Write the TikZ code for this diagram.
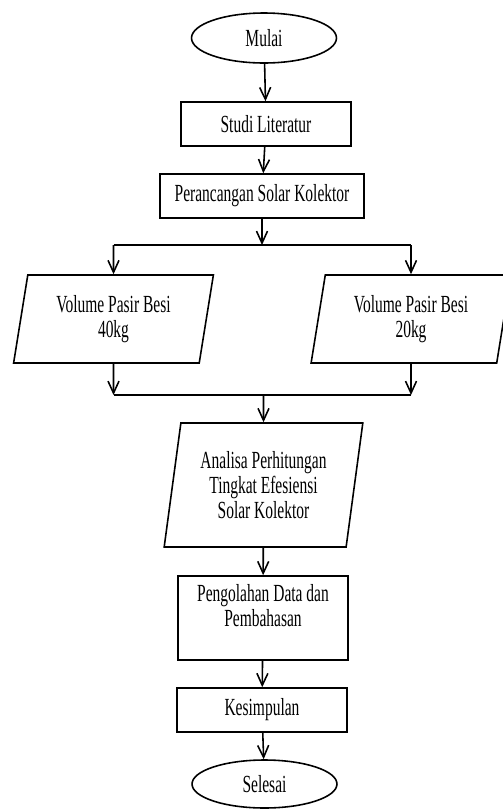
\documentclass[tikz,border=0pt]{standalone}
\usepackage{fontspec}
\setmainfont[FakeStretch=0.63]{Liberation Serif}
\usetikzlibrary{arrows.meta,shapes.geometric}

\begin{document}
\begin{tikzpicture}[x=0.02cm,y=-0.02cm,line width=0.9pt,
    font=\fontsize{14}{14.2}\selectfont,
    terminal/.style={shape=ellipse,draw=black,minimum width=2.9cm,minimum height=1cm,inner sep=1pt},
    proses/.style={shape=rectangle,draw=black,minimum width=3.4cm,minimum height=0.88cm,align=center},
    datain/.style={shape=trapezium,draw=black,trapezium left angle=80,trapezium right angle=100,
        trapezium stretches=true,minimum width=4.02cm,minimum height=1.76cm,align=center},
    panah/.style={-{Straight Barb[length=0.24cm,width=0.22cm]}}]
    \useasboundingbox (0,0) rectangle (503,809);

    \node[terminal] (mulai) at (264,38) {Mulai};
    \node[proses] (studi) at (266,124) {Studi Literatur};
    \node[proses,minimum width=4.08cm] (rancang) at (262,196) {Perancangan Solar Kolektor};
    \node[datain] (kiri) at (113.5,319) {Volume Pasir Besi\\40kg};
    \node[datain] (kanan) at (411,319) {Volume Pasir Besi\\20kg};
    \node[datain,minimum width=3.98cm,minimum height=2.48cm] (analisa) at (263.5,485)
        {Analisa Perhitungan\\Tingkat Efesiensi\\Solar Kolektor};
    \node[proses,minimum height=1.68cm] (olah) at (263,618) {Pengolahan Data dan\\Pembahasan\\~};
    \node[proses] (simpul) at (262,710) {Kesimpulan};
    \node[terminal,minimum height=0.96cm] (selesai) at (264.5,784) {Selesai};

    % percabangan
    \coordinate (cabang) at (rancang.south |- 0,245);
    \coordinate (cabangL) at (kiri.north |- 0,245);
    \coordinate (cabangR) at (kanan.north |- 0,245);
    \coordinate (gabung) at (analisa.north |- 0,395);
    \coordinate (gabungL) at (kiri.south |- 0,395);
    \coordinate (gabungR) at (kanan.south |- 0,395);

    \path [panah] (mulai) edge (studi);
    \path [panah] (studi) edge (rancang);
    \path [panah] (rancang) edge (cabang);
    \draw (cabangL) -- (cabangR);
    \path [panah] (cabangL) edge (kiri);
    \path [panah] (cabangR) edge (kanan);
    \path [panah] (kiri) edge (gabungL);
    \path [panah] (kanan) edge (gabungR);
    \draw (gabungL) -- (gabungR);
    \path [panah] (gabung) edge (analisa);
    \path [panah] (analisa) edge (olah);
    \path [panah] (olah) edge (simpul);
    \path [panah] (simpul) edge (selesai);

\end{tikzpicture}
\end{document}
